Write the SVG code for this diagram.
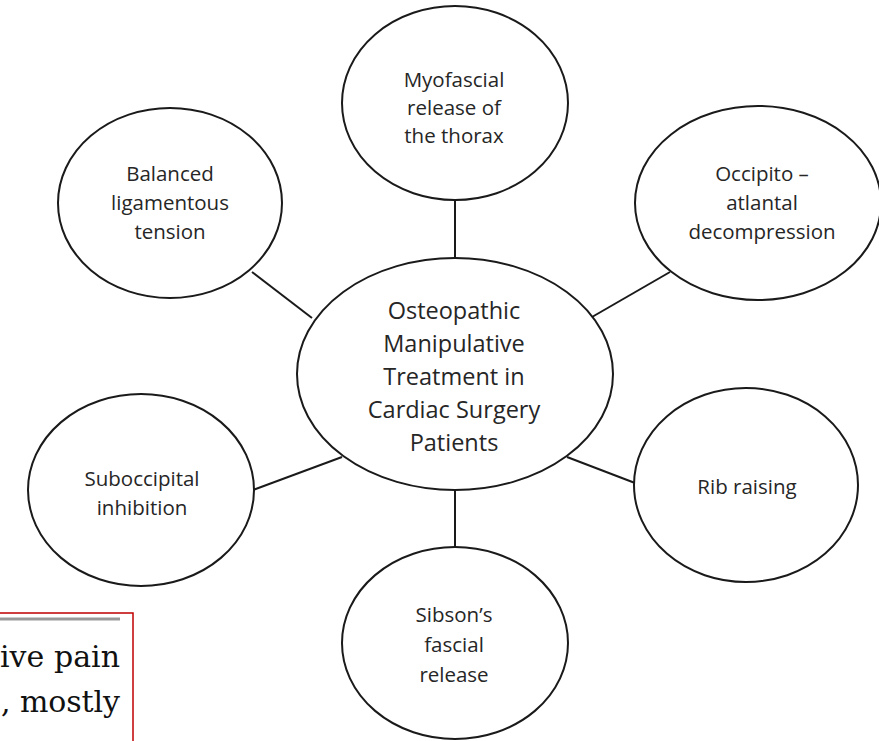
<svg xmlns="http://www.w3.org/2000/svg" width="879" height="741" viewBox="0 0 879 741">
<style>
.node ellipse{fill:#fff;stroke:#1a1a1a;stroke-width:2}
.lbl{font-family:"Open Sans","Liberation Sans",sans-serif;font-size:20.5px;fill:#262626;text-anchor:middle}
.big{font-size:23.5px}
.conn line{stroke:#1a1a1a;stroke-width:2}
.pg{font-family:"DejaVu Serif","Liberation Serif",serif;font-size:30px;fill:#111}
</style>
<rect width="879" height="741" fill="#fff"/>
<g id="connectors" class="conn">
<line x1="455" y1="200" x2="455" y2="258"/>
<line x1="455" y1="491" x2="455" y2="547"/>
<line x1="252" y1="272" x2="312" y2="318"/>
<line x1="670" y1="272" x2="592" y2="317"/>
<line x1="567" y1="457" x2="635" y2="483"/>
<line x1="253" y1="490" x2="342" y2="457"/>
</g>
<g id="center" class="node">
<ellipse cx="455" cy="374" rx="158" ry="116"/>
<text class="lbl big"><tspan x="454" y="319">Osteopathic</tspan><tspan x="454" y="352">Manipulative</tspan><tspan x="454" y="385">Treatment in</tspan><tspan x="454" y="418">Cardiac Surgery</tspan><tspan x="454" y="451">Patients</tspan></text>
</g>
<g id="myofascial" class="node">
<ellipse cx="455" cy="103" rx="113" ry="97"/>
<text class="lbl"><tspan x="454" y="87">Myofascial</tspan><tspan x="454" y="115">release of</tspan><tspan x="454" y="143">the thorax</tspan></text>
</g>
<g id="balanced" class="node">
<ellipse cx="170" cy="203" rx="112" ry="95"/>
<text class="lbl"><tspan x="170" y="181">Balanced</tspan><tspan x="170" y="210">ligamentous</tspan><tspan x="170" y="239">tension</tspan></text>
</g>
<g id="occipito" class="node">
<ellipse cx="758" cy="203" rx="123" ry="97"/>
<text class="lbl"><tspan x="762" y="181">Occipito –</tspan><tspan x="762" y="210">atlantal</tspan><tspan x="762" y="239">decompression</tspan></text>
</g>
<g id="rib" class="node">
<ellipse cx="746" cy="485" rx="112" ry="97"/>
<text class="lbl" x="747" y="494">Rib raising</text>
</g>
<g id="suboccipital" class="node">
<ellipse cx="141" cy="490" rx="113" ry="96"/>
<text class="lbl"><tspan x="142" y="486">Suboccipital</tspan><tspan x="142" y="515">inhibition</tspan></text>
</g>
<g id="sibson" class="node">
<ellipse cx="455" cy="643" rx="113" ry="96"/>
<text class="lbl"><tspan x="454" y="622">Sibson’s</tspan><tspan x="454" y="652">fascial</tspan><tspan x="454" y="682">release</tspan></text>
</g>
<g id="page-fragment">
<rect x="-10" y="613" width="143" height="140" fill="#fff" stroke="#c00000" stroke-width="1.5"/>
<line x1="0" y1="619" x2="120" y2="619" stroke="#999" stroke-width="3"/>
<text class="pg" x="0" y="667" textLength="120" lengthAdjust="spacing">ive pain</text>
<text class="pg" x="1" y="712" textLength="119" lengthAdjust="spacing">, mostly</text>
</g>
</svg>
